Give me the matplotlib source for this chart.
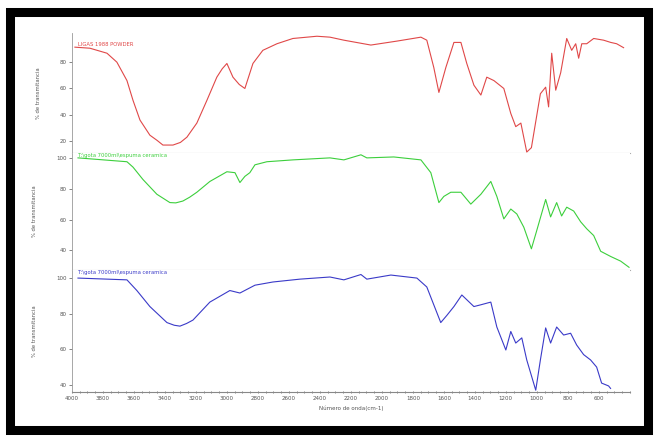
import numpy as np
import matplotlib.pyplot as plt
from matplotlib.patches import Rectangle
from matplotlib.ticker import MultipleLocator

# wavenumber (cm-1) and % transmittance
red_w = [3981, 3884, 3774, 3710, 3645, 3606, 3561, 3497, 3450, 3413, 3348, 3300,
         3258, 3194, 3129, 3065, 3030, 3000, 2961, 2920, 2884, 2832, 2768, 2677,
         2574, 2419, 2335, 2245, 2071, 1903, 1748, 1710, 1665, 1632, 1587, 1535,
         1490, 1452, 1406, 1361, 1323, 1277, 1213, 1168, 1136, 1103, 1065, 1035,
         977, 943, 924, 904, 878, 846, 807, 775, 749, 730, 710, 678, 633, 569, 523,
         485, 440]
red_t = [91.4, 90.6, 86.8, 80, 66, 51, 36, 24.5, 20.5, 17, 17, 19,
         23, 33.7, 51, 68.6, 75, 79, 68.6, 63, 60, 79, 89, 94,
         98, 99.7, 99, 96.7, 93, 96, 99, 96.7, 76, 57, 76, 95,
         95, 79, 62.5, 55, 68.6, 66, 60, 41, 31, 33.7, 11.7, 15,
         56, 61, 46, 86.8, 58.7, 72, 98, 89, 94, 83, 94, 94, 98, 96.7, 95,
         94, 91]

green_w = [3961, 3645, 3606, 3542, 3452, 3368, 3330, 3284, 3240, 3194, 3110, 3000,
           2948, 2916, 2884, 2852, 2819, 2742, 2574, 2335, 2245, 2135, 2097, 1923,
           1748, 1684, 1632, 1600, 1555, 1490, 1426, 1361, 1297, 1258, 1213, 1168,
           1129, 1084, 1035, 1003, 943, 911, 872, 840, 807, 762, 717, 678, 633, 588,
           523, 459, 405]
green_t = [100, 97.5, 94, 86, 76.4, 71, 70.8, 72, 74.5, 77.7, 84.7, 91,
           90.4, 84, 88, 90.4, 95.5, 97.5, 98.7, 100, 98.7, 102, 100, 100.6,
           98.7, 90.4, 71, 75, 77.7, 77.7, 70, 76.4, 84.7, 75, 60.4, 66.8,
           63.6, 55, 41, 52, 73, 61.7, 71, 62.3, 68, 65.5, 58.5, 54, 49.6, 39.4,
           36, 33, 29]

blue_w = [3961, 3645, 3581, 3497, 3387, 3340, 3303, 3260, 3219, 3110, 2981, 2916,
          2819, 2703, 2529, 2335, 2245, 2135, 2097, 1942, 1774, 1710, 1620, 1581,
          1535, 1484, 1406, 1361, 1297, 1258, 1200, 1168, 1136, 1097, 1065, 1007,
          977, 943, 911, 872, 827, 782, 743, 698, 653, 614, 582, 537, 524]
blue_t = [100, 99, 93, 84, 75, 73.5, 73, 74.5, 76.4, 86.5, 93, 91.6,
          96, 97.8, 99.4, 100.6, 99, 102, 99.4, 101.7, 100, 95, 75, 79,
          84, 90.5, 84, 85, 86.5, 72.5, 59.6, 70, 63.5, 66.4, 54, 37,
          54, 72, 63.5, 72.5, 68, 69, 62.4, 57, 54, 50, 41, 39.4, 38]

labels = ["LIGAS 1988 POWDER",
          "T:\\gota 7000ml\\espuma ceramica",
          "T:\\gota 7000ml\\espuma ceramica"]
colors = ["#e04848", "#3ccf3c", "#3a3ac8"]
ylims = [(11, 102), (27.2, 103.2), (36, 104.5)]
yticks = [[20, 40, 60, 80], [40, 60, 80, 100], [40, 60, 80, 100]]
xticks = list(range(4000, 599, -200))

fig = plt.figure(figsize=(6.54, 4.37), dpi=100)
L, R = 0.110, 0.963
bounds = [(0.650, 0.924), (0.382, 0.650), (0.103, 0.382)]
series = [(red_w, red_t), (green_w, green_t), (blue_w, blue_t)]

for i, ((b, t), (w, tr)) in enumerate(zip(bounds, series)):
    ax = fig.add_axes([L, b, R - L, t - b])
    ax.plot(w, tr, color=colors[i], lw=0.8)
    ax.set_xlim(4000, 400)
    ax.set_ylim(*ylims[i])
    ax.set_yticks(yticks[i])
    ax.tick_params(axis="y", labelsize=4, length=2, width=0.5, colors="#555555", pad=1.5)
    for s in ["top", "right"]:
        ax.spines[s].set_visible(False)
    ax.spines["left"].set_color("#999999")
    ax.spines["bottom"].set_color("#aaaaaa")
    ax.spines["left"].set_linewidth(0.6)
    ax.spines["bottom"].set_linewidth(0.8)
    ax.set_ylabel("% de transmitancia", fontsize=3.8, color="#555555", labelpad=14)
    ax.text(0.01, 1.0 if i else 0.93, labels[i], transform=ax.transAxes,
            fontsize=3.8, color=colors[i], va="top", ha="left")
    if i < 2:
        ax.set_xticks([])
    else:
        ax.set_xticks(xticks)
        ax.set_xticklabels([str(x) for x in xticks])
        ax.xaxis.set_minor_locator(MultipleLocator(50))
        ax.tick_params(axis="x", which="both", labelsize=4, length=2, width=0.5,
                       colors="#555555", direction="inout", pad=2)
        ax.spines["bottom"].set_color("#888888")
        ax.set_xlabel("Número de onda(cm-1)", fontsize=4, color="#555555", labelpad=3)

fig.patches.append(Rectangle((0.0153, 0.016), 0.975, 0.957, transform=fig.transFigure,
                             fill=False, edgecolor="black", linewidth=6.5))

fig.savefig("out.png", dpi=100)
